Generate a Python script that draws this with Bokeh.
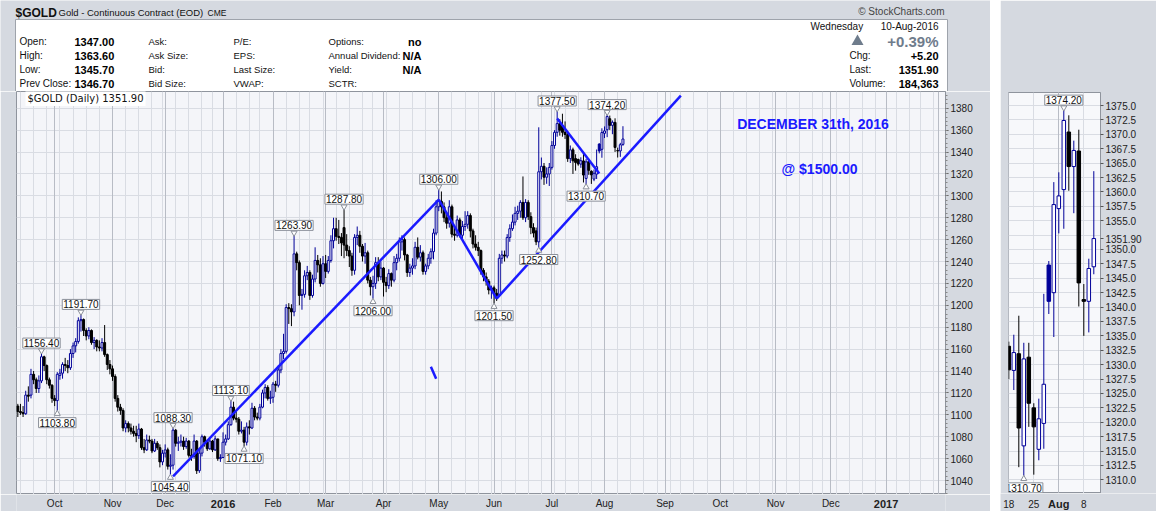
import pandas as pd
from bokeh.plotting import figure
from bokeh.models import (Range1d, FixedTicker, SingleIntervalTicker, Grid, Label,
                          Spacer, NumeralTickFormatter, ColumnDataSource, Plot)
from bokeh.layouts import row, column
from bokeh.embed import file_html
from bokeh.resources import INLINE
from bokeh.core.properties import value

# ---------------- data ----------------
first_day = "2015-09-11"
holidays = ["2015-11-26", "2015-12-25", "2016-01-01", "2016-01-18", "2016-02-15",
            "2016-03-25", "2016-05-30", "2016-07-04", "2016-09-05", "2016-11-24",
            "2016-12-26", "2017-01-02", "2017-01-16", "2017-02-20"]

opens = [
    1108, 1103, 1102, 1101, 1118, 1118, 1137, 1132, 1124, 1131, 1153, 1145, 1132, 1127,
    1115, 1113, 1136, 1138, 1146, 1145, 1143, 1156, 1163, 1167, 1186, 1187, 1177, 1172, 1177, 1166, 1168, 1162, 1161, 1166, 1155, 1146,
    1142, 1135, 1115, 1107, 1104, 1088, 1092, 1088, 1085, 1083, 1081, 1087, 1070, 1068, 1077, 1076, 1067, 1074, 1070, 1057,
    1065, 1068, 1053, 1054, 1086, 1074, 1075, 1076, 1071, 1076, 1063, 1062, 1076, 1049, 1065, 1080, 1075, 1069, 1076, 1068, 1078, 1060,
    1061, 1075, 1078, 1091, 1107, 1097, 1096, 1085, 1086, 1075, 1089, 1088, 1106, 1098, 1097, 1107, 1120, 1125, 1115,
    1116, 1128, 1127, 1141, 1156, 1158, 1198, 1197, 1194, 1247, 1239, 1209, 1210, 1227, 1230, 1209, 1224, 1241, 1237, 1220,
    1238, 1231, 1241, 1259, 1270, 1263, 1262, 1271, 1255, 1250, 1245, 1232, 1262, 1264, 1254, 1245, 1248, 1223, 1217, 1220, 1239, 1226,
    1234, 1221, 1218, 1229, 1223, 1239, 1243, 1258, 1260, 1246, 1230, 1234, 1236, 1253, 1244, 1248, 1231, 1236, 1243, 1249, 1266,
    1290, 1295, 1290, 1280, 1275, 1290, 1265, 1264, 1278, 1264, 1272, 1274, 1282, 1268, 1256, 1253, 1250, 1232, 1226, 1222, 1214,
    1216, 1211, 1209, 1243, 1246, 1245, 1262, 1270, 1276, 1284, 1286, 1294, 1280, 1294, 1281, 1271, 1268, 1258, 1322, 1327, 1317, 1320,
    1326, 1346, 1358, 1366, 1364, 1358, 1356, 1334, 1342, 1334, 1333.2, 1329.0, 1331.9, 1315.9, 1331.3, 1322.5, 1315.3, 1319.8, 1347.3, 1342.5,
    1357.1, 1360.4, 1370.4, 1364.4, 1367.1, 1341.3, 1341.0, 1347.0,
]
highs = [
    1110, 1110, 1108, 1122, 1126, 1142, 1140, 1134, 1136, 1156.4, 1154, 1146, 1134, 1128,
    1118, 1139, 1142, 1148, 1152, 1150, 1160, 1166, 1170, 1189, 1191.7, 1188, 1179, 1180, 1178, 1171, 1169, 1168, 1170, 1182, 1156, 1150,
    1145, 1137, 1118, 1110, 1106, 1095, 1094, 1092, 1090, 1090, 1092, 1088, 1078, 1082, 1081, 1078, 1078, 1076, 1073, 1068,
    1073, 1070, 1064, 1088.3, 1087, 1080, 1082, 1080, 1079, 1077, 1069, 1082, 1077, 1068, 1082, 1081, 1077, 1078, 1077, 1081, 1078, 1064,
    1084, 1082, 1094, 1113.1, 1112, 1103, 1098, 1094, 1089, 1093, 1095, 1111, 1108, 1102, 1110, 1123, 1128, 1127, 1122,
    1130, 1131, 1145, 1160, 1174, 1201, 1202, 1201, 1263.9, 1249, 1241, 1215, 1232, 1236, 1232, 1228, 1253, 1246, 1243, 1245,
    1246, 1245, 1264, 1280, 1280, 1278, 1266, 1287.8, 1265, 1254, 1248, 1265, 1272, 1268, 1256, 1257, 1250, 1226, 1227, 1244, 1244, 1240,
    1235, 1226, 1233, 1230, 1245, 1247, 1262, 1264, 1262, 1247, 1238, 1243, 1258, 1262, 1255, 1250, 1238, 1247, 1252, 1270, 1296,
    1306, 1304, 1294, 1285, 1296, 1292, 1272, 1282, 1280, 1277, 1286, 1286, 1284, 1270, 1264, 1258, 1251, 1234, 1230, 1224, 1218,
    1218, 1215, 1247, 1250, 1250, 1265, 1274, 1283, 1290, 1291, 1296, 1317.7, 1297, 1296, 1285, 1275, 1271, 1362.6, 1335, 1330, 1326, 1330,
    1350, 1360, 1377.5, 1370, 1375, 1368, 1358, 1346, 1344, 1338, 1334.0, 1335.2, 1338.5, 1333.8, 1333.8, 1323.3, 1324.1, 1342.3, 1348.0, 1361.7,
    1363.4, 1374.2, 1373.3, 1368.9, 1370.8, 1344.0, 1348.4, 1363.6,
]
lows = [
    1098, 1100, 1098, 1100, 1112, 1115, 1128, 1120, 1120, 1129, 1140, 1128, 1124, 1111,
    1108, 1103.8, 1132, 1133, 1140, 1138, 1141, 1152, 1157, 1165, 1176, 1172, 1168, 1169, 1164, 1160, 1158, 1158, 1158, 1153, 1141, 1137,
    1131, 1112, 1103, 1100, 1085, 1084, 1084, 1082, 1080, 1075, 1078, 1068, 1065, 1067, 1074, 1065, 1066, 1068, 1052, 1054,
    1061, 1050, 1045.4, 1050, 1071, 1067, 1071, 1068, 1069, 1061, 1058, 1060, 1046, 1047, 1062, 1071, 1067, 1068, 1066, 1067, 1058, 1057,
    1061, 1072, 1077, 1090, 1095, 1093, 1082, 1083, 1071.1, 1072, 1082, 1087, 1095, 1095, 1095, 1106, 1115, 1113, 1110,
    1111, 1121, 1125, 1138, 1151, 1156, 1183, 1181, 1190, 1232, 1200, 1196, 1207, 1223, 1205, 1207, 1221, 1230, 1217, 1219,
    1225, 1229, 1239, 1252, 1259, 1256, 1245, 1243, 1245, 1235, 1227, 1228, 1255, 1248, 1240, 1238, 1220, 1209, 1206, 1215, 1222, 1223,
    1208, 1212, 1215, 1217, 1221, 1232, 1240, 1250, 1241, 1226, 1226, 1228, 1233, 1242, 1240, 1228, 1228, 1233, 1238, 1242, 1264,
    1286, 1284, 1276, 1270, 1271, 1262, 1259, 1262, 1262, 1261, 1268, 1270, 1262, 1252, 1250, 1245, 1228, 1222, 1218, 1210, 1206,
    1201.5, 1204, 1208, 1238, 1240, 1243, 1258, 1268, 1273, 1278, 1280, 1278, 1276, 1278, 1265, 1262, 1255, 1252.8, 1315, 1310, 1311, 1309,
    1324, 1343, 1354, 1355, 1354, 1352, 1331, 1330, 1320, 1323, 1327.5, 1325.6, 1312.2, 1310.7, 1319.2, 1310.9, 1313.4, 1315.4, 1338.8, 1334.8,
    1352.8, 1353.6, 1360.2, 1356.3, 1340.1, 1335.0, 1335.6, 1345.7,
]
closes = [
    1103, 1102, 1101, 1118, 1117, 1137, 1132, 1124, 1131, 1153, 1145, 1132, 1127, 1115,
    1113, 1137, 1138, 1146, 1145, 1143, 1156, 1163, 1167, 1186, 1187, 1177, 1172, 1177, 1166, 1168, 1162, 1161, 1166, 1155, 1146, 1142,
    1135, 1115, 1107, 1104, 1088, 1092, 1088, 1085, 1083, 1081, 1087, 1070, 1068, 1077, 1076, 1067, 1074, 1070, 1057, 1065,
    1068, 1053, 1054, 1086, 1074, 1075, 1076, 1071, 1076, 1063, 1062, 1076, 1049, 1065, 1080, 1075, 1069, 1076, 1068, 1078, 1060, 1061,
    1075, 1078, 1091, 1107, 1097, 1096, 1085, 1086, 1075, 1089, 1088, 1106, 1098, 1097, 1107, 1120, 1125, 1115, 1116,
    1128, 1127, 1141, 1156, 1158, 1198, 1197, 1194, 1247, 1239, 1209, 1210, 1227, 1230, 1209, 1224, 1241, 1237, 1220, 1238,
    1231, 1241, 1259, 1270, 1263, 1262, 1257, 1255, 1250, 1245, 1232, 1262, 1264, 1254, 1245, 1248, 1223, 1217, 1220, 1239, 1226, 1234,
    1221, 1218, 1229, 1223, 1239, 1243, 1258, 1260, 1246, 1230, 1234, 1236, 1253, 1244, 1248, 1231, 1236, 1243, 1249, 1266, 1290,
    1295, 1290, 1280, 1275, 1290, 1265, 1264, 1278, 1264, 1272, 1274, 1282, 1268, 1256, 1253, 1250, 1232, 1226, 1222, 1214, 1216,
    1211, 1209, 1243, 1246, 1245, 1262, 1270, 1276, 1284, 1286, 1294, 1280, 1294, 1281, 1271, 1266, 1258, 1322, 1327, 1317, 1320, 1326,
    1346, 1358, 1366, 1360, 1358, 1356, 1334, 1342, 1332, 1330.5, 1329.1, 1332.1, 1319.0, 1331.0, 1323.3, 1319.2, 1320.6, 1326.6, 1341.0, 1357.8,
    1359.3, 1372.4, 1364.4, 1367.2, 1344.2, 1341.0, 1346.7, 1351.9,
]

callout_dates = ["2015-09-24", "2015-10-02", "2015-10-15", "2015-12-04", "2015-12-03",
                 "2016-01-07", "2016-01-14", "2016-02-11", "2016-03-10", "2016-03-28",
                 "2016-05-02", "2016-06-01", "2016-06-24", "2016-07-06", "2016-07-21",
                 "2016-08-02"]
callout_prices = [1156.40, 1103.80, 1191.70, 1088.30, 1045.40, 1113.10, 1071.10, 1263.90,
                  1287.80, 1206.00, 1306.00, 1201.50, 1252.80, 1377.50, 1310.70, 1374.20]
callout_sides = ["above", "below", "above", "above", "below", "above", "below", "above",
                 "above", "below", "above", "below", "below", "above", "below", "above"]

trend_start_dates = ["2015-12-04", "2016-05-02", "2016-06-02", "2016-07-06", "2016-04-27"]
trend_start_prices = [1043.7, 1296.6, 1206.2, 1370.6, 1144.0]
trend_end_dates = ["2016-05-02", "2016-06-02", "2016-09-12", "2016-07-28", "2016-04-29"]
trend_end_prices = [1296.6, 1206.2, 1391.6, 1320.4, 1133.0]

month_tick_labels = ["Oct", "Nov", "Dec", "2016", "Feb", "Mar", "Apr", "May", "Jun",
                     "Jul", "Aug", "Sep", "Oct", "Nov", "Dec", "2017"]
zoom_bars = 18
zoom_tick_labels = ["18", "25", "Aug", "8"]

symbol = "$GOLD"
title_text = "Gold - Continuous Contract (EOD)"
exchange = "CME"
credit = "\u00a9 StockCharts.com"
info_labels = [["Open:", "High:", "Low:", "Prev Close:"],
               ["Ask:", "Ask Size:", "Bid:", "Bid Size:"],
               ["P/E:", "EPS:", "Last Size:", "VWAP:"],
               ["Options:", "Annual Dividend:", "Yield:", "SCTR:"]]
info_values = ["1347.00", "1363.60", "1345.70", "1346.70"]
info_values2 = ["no", "N/A", "N/A", ""]
quote_day = "Wednesday"
quote_date = "10-Aug-2016"
quote_pct = "+0.39%"
quote_labels = ["Chg:", "Last:", "Volume:"]
quote_values = ["+5.20", "1351.90", "184,363"]
chart_caption = "$GOLD (Daily) 1351.90"
last_price = 1351.90
note_1 = "DECEMBER 31th, 2016"
note_2 = "@ $1500.00"

# ---------------- styling ----------------
PANEL_BG = "#d5d9e0"
PLOT_BG = "#f4f5f9"
GRID = "#d9dce3"
MONTH_GRID = "#b8bcc5"
FRAME = "#8f949d"
BLUE_C = "#000099"
BLACK_C = "#000000"
TREND = "#1a1aff"
FONT = "Liberation Sans"
HAS_FA = "frame_align" in Plot.properties()

# ---------------- calendar ----------------
cal = pd.bdate_range(first_day, "2017-03-31")
cal = cal[~cal.isin(pd.to_datetime(holidays))]
cal_str = list(cal.strftime("%Y-%m-%d"))
pos = {d: i for i, d in enumerate(cal_str)}
n = len(closes)

month_starts = [i for i in range(1, len(cal)) if cal[i].month != cal[i - 1].month]
week_starts = [i for i in range(1, len(cal)) if cal[i].weekday() < cal[i - 1].weekday()]

bar_color, bar_fill = [], []
for i in range(n):
    up = i > 0 and closes[i] >= closes[i - 1]
    col = BLUE_C if up else BLACK_C
    bar_color.append(col)
    bar_fill.append("white" if closes[i] > opens[i] else col)


def draw_candles(p, idx, width):
    src = ColumnDataSource(dict(
        x=idx,
        h=[highs[i] for i in idx], l=[lows[i] for i in idx],
        top=[max(opens[i], closes[i]) for i in idx],
        bottom=[min(opens[i], closes[i]) for i in idx],
        color=[bar_color[i] for i in idx], fill=[bar_fill[i] for i in idx]))
    p.segment(x0="x", y0="l", x1="x", y1="h", line_color="color", line_width=1, source=src)
    p.vbar(x="x", width=width, top="top", bottom="bottom", fill_color="fill",
           line_color="color", line_width=1, source=src)


def add_callouts(p, ppu, lo, hi):
    for d, pr, s in zip(callout_dates, callout_prices, callout_sides):
        i = pos[d]
        if i < lo or i >= hi:
            continue
        up = s == "above"
        p.add_layout(Label(x=i, y=pr, y_offset=10 if up else -12, text=f"{pr:.2f}",
                           text_align="center", text_baseline="middle", text_font=FONT,
                           text_font_size="10px", text_color="#111111",
                           background_fill_color="white", border_line_color="#8a8f99",
                           padding=1))
        p.scatter(x=[i], y=[pr + (2.5 if up else -3.0) / ppu],
                  marker="inverted_triangle" if up else "triangle", size=6,
                  fill_color="white", line_color="#8a8f99")


def label_strip(width, height, x_range, border_left, border_right, ticks, labels, bold,
                ypos, free):
    s = figure(width=width, height=height, x_range=x_range, y_range=Range1d(0, 1),
               x_axis_location=None, y_axis_location=None, min_border=0,
               min_border_left=border_left, min_border_right=border_right,
               toolbar_location=None, output_backend="svg",
               background_fill_color=PANEL_BG, border_fill_color=PANEL_BG,
               outline_line_color=None)
    if free and HAS_FA:
        s.frame_align = False
    s.grid.visible = False
    reg = [(t, lab) for t, lab in zip(ticks, labels) if lab not in bold]
    bld = [(t, lab) for t, lab in zip(ticks, labels) if lab in bold]
    if reg:
        s.text(x=[t for t, _ in reg], y=[ypos] * len(reg), text=[l for _, l in reg],
               text_font=value(FONT), text_font_size="10px", text_color="#222222",
               text_align="center", text_baseline="middle")
    if bld:
        s.text(x=[t for t, _ in bld], y=[ypos] * len(bld), text=[l for _, l in bld],
               text_font=value(FONT), text_font_size="11px", text_font_style="bold",
               text_color="#222222", text_align="center", text_baseline="middle")
    return s


# ---------------- header ----------------
if HAS_FA:
    hdr = figure(width=990, height=91, x_range=Range1d(0, 990), y_range=Range1d(91, 0),
                 x_axis_location=None, y_axis_location=None, min_border=0,
                 toolbar_location=None, output_backend="svg",
                 background_fill_color=PANEL_BG, border_fill_color=PANEL_BG,
                 outline_line_color=None)
    hdr.frame_align = False
else:
    hdr = figure(width=990, height=91, x_range=Range1d(16, 945), y_range=Range1d(91, 0),
                 x_axis_location=None, y_axis_location=None, min_border=0,
                 min_border_left=16, min_border_right=45,
                 toolbar_location=None, output_backend="svg",
                 background_fill_color=PANEL_BG, border_fill_color=PANEL_BG,
                 outline_line_color=None)
hdr.grid.visible = False
hdr.quad(left=[15], right=[947], top=[19], bottom=[91], fill_color="white",
         line_color="#9ea3ab")


def htext(x, y, t, size="9.5px", style="normal", color="#111111", align="left"):
    hdr.text(x=[x], y=[y], text=[t], text_font=value(FONT), text_font_size=size,
             text_font_style=style, text_color=color, text_align=align,
             text_baseline="middle")


htext(15, 12, symbol, "12px", "bold")
htext(58, 12, title_text, "9.5px")
htext(207, 12, exchange, "8.5px")
htext(944, 11, credit, "10px", color="#444444", align="right")
rows_y = [41, 55, 69, 83]
col_x = [19, 148, 233, 328]
for cx, labs in zip(col_x, info_labels):
    for y, t in zip(rows_y, labs):
        htext(cx, y, t, "10px" if cx == 19 else "9.5px")
for y, t in zip(rows_y, info_values):
    htext(74, y, t, "11px", "bold", "#000000")
for y, t in zip(rows_y, info_values2):
    if t:
        htext(421, y, t, "11px", "bold", "#000000", "right")
htext(810, 26, quote_day, "10px")
htext(938, 26, quote_date, "10px", align="right")
hdr.scatter(x=[857], y=[41], marker="triangle", size=12, fill_color="#6f7c8c",
            line_color=None)
htext(938, 41, quote_pct, "15px", "bold", "#6f7c8c", "right")
for y, lab, val in zip(rows_y[1:], quote_labels, quote_values):
    htext(849, y, lab, "10px")
    htext(938, y, val, "11px", "bold", "#000000", "right")

# ---------------- main chart ----------------
MAIN_Y1 = 1395.3
MAIN_PPU = 1.0949
MAIN_H = 403
MAIN_Y0 = MAIN_Y1 - MAIN_H / MAIN_PPU
main_xr = Range1d(-0.5, 352.6)
main = figure(width=990, height=MAIN_H, x_range=main_xr,
              y_range=Range1d(MAIN_Y0, MAIN_Y1), output_backend="svg",
              toolbar_location=None, x_axis_location=None, y_axis_location="right",
              min_border_left=16, min_border_right=45, min_border_top=0,
              min_border_bottom=0, background_fill_color=PLOT_BG,
              border_fill_color=PANEL_BG, outline_line_color=FRAME)

month_ticks = month_starts[:len(month_tick_labels)]

main.yaxis.ticker = SingleIntervalTicker(interval=20, num_minor_ticks=5)
main.yaxis.major_tick_out = 3
main.yaxis.major_tick_in = 0
main.yaxis.minor_tick_out = 2
main.yaxis.minor_tick_in = 0
main.yaxis.axis_line_color = FRAME
main.yaxis.major_tick_line_color = "#555555"
main.yaxis.minor_tick_line_color = "#888888"
main.yaxis.major_label_standoff = 2
main.yaxis.major_label_text_font = FONT
main.yaxis.major_label_text_font_size = "10px"
main.yaxis.major_label_text_color = "#222222"

main.xgrid.grid_line_color = None
main.ygrid.ticker = SingleIntervalTicker(interval=20)
main.ygrid.grid_line_color = GRID
main.add_layout(Grid(dimension=0, ticker=FixedTicker(ticks=week_starts),
                     grid_line_color=GRID))
main.add_layout(Grid(dimension=0, ticker=FixedTicker(ticks=month_starts),
                     grid_line_color=MONTH_GRID))

draw_candles(main, list(range(n)), 0.75)

main.multi_line(xs=[[pos[a], pos[b]] for a, b in zip(trend_start_dates, trend_end_dates)],
                ys=[[a, b] for a, b in zip(trend_start_prices, trend_end_prices)],
                line_color=TREND, line_width=2.5)

add_callouts(main, MAIN_PPU, 0, n)

FRAME_BOTTOM = 91 + MAIN_H
main.add_layout(Label(x=9, y=FRAME_BOTTOM - 98, x_units="screen", y_units="screen",
                      text=chart_caption, text_baseline="middle", text_font="DejaVu Sans",
                      text_font_size="10px", text_color="#111111",
                      background_fill_color="white", padding=2))
main.add_layout(Label(x=796.5, y=FRAME_BOTTOM - 123.3, x_units="screen", y_units="screen",
                      text=note_1, text_align="center", text_baseline="middle",
                      text_font=FONT, text_font_size="14px", text_font_style="bold",
                      text_color=TREND))
main.add_layout(Label(x=803, y=FRAME_BOTTOM - 168.3, x_units="screen", y_units="screen",
                      text=note_2, text_align="center", text_baseline="middle",
                      text_font=FONT, text_font_size="14px", text_font_style="bold",
                      text_color=TREND))

main_strip = label_strip(990, 511 - FRAME_BOTTOM, main_xr, 16, 45, month_ticks,
                         month_tick_labels, {"2016", "2017"},
                         (511 - 503) / (511 - FRAME_BOTTOM), False)

# ---------------- zoom panel ----------------
z0 = n - zoom_bars
SIDE_PPU = 5.759
SIDE_Y1 = 1377.26
SIDE_TOP = 92
SIDE_BOTTOM = 493
SIDE_Y0 = SIDE_Y1 - (SIDE_BOTTOM - SIDE_TOP) / SIDE_PPU
BAR_PX = 5.0
side_x0 = z0 - 0.06
side_xr = Range1d(side_x0, side_x0 + 92 / BAR_PX)
side = figure(width=156, height=SIDE_BOTTOM, x_range=side_xr,
              y_range=Range1d(SIDE_Y0, SIDE_Y1), output_backend="svg",
              toolbar_location=None, x_axis_location=None, y_axis_location="right",
              min_border_left=8, min_border_right=56, min_border_top=SIDE_TOP,
              min_border_bottom=0, background_fill_color="#f7f8fb",
              border_fill_color=PANEL_BG, outline_line_color=FRAME)

zoom_ticks = [w for w in week_starts if z0 <= w < n]

y_ticks = [1310 + 2.5 * k for k in range(27)]
y_ticks = [t for t in y_ticks if abs(t - last_price) > 1.0] + [last_price]
side.yaxis.ticker = FixedTicker(ticks=y_ticks)
side.yaxis.formatter = NumeralTickFormatter(format="0.0")
side.yaxis.major_label_overrides = {last_price: f"{last_price:.2f}"}
side.yaxis.major_tick_out = 3
side.yaxis.major_tick_in = 0
side.yaxis.minor_tick_line_color = None
side.yaxis.axis_line_color = FRAME
side.yaxis.major_tick_line_color = "#555555"
side.yaxis.major_label_standoff = 2
side.yaxis.major_label_text_font = FONT
side.yaxis.major_label_text_font_size = "10px"
side.yaxis.major_label_text_color = "#222222"

side.xgrid.grid_line_color = None
side.ygrid.ticker = SingleIntervalTicker(interval=2.5)
side.ygrid.grid_line_color = GRID
side.add_layout(Grid(dimension=0, ticker=FixedTicker(ticks=zoom_ticks),
                     grid_line_color=GRID))
side.add_layout(Grid(dimension=0, ticker=FixedTicker(ticks=[m for m in month_starts if z0 <= m < n]),
                     grid_line_color=MONTH_GRID))

draw_candles(side, list(range(z0, n)), 0.7)
add_callouts(side, SIDE_PPU, z0, n)

strip_h = 511 - SIDE_BOTTOM
if HAS_FA:
    side_strip_xr = Range1d(side_x0 - 8 / BAR_PX, side_x0 - 8 / BAR_PX + 156 / BAR_PX)
    side_strip = label_strip(156, strip_h, side_strip_xr, 0, 0, zoom_ticks,
                             zoom_tick_labels, {"Aug"}, (511 - 503) / strip_h, True)
else:
    side_strip = label_strip(156, strip_h, side_xr, 8, 56, zoom_ticks,
                             zoom_tick_labels, {"Aug"}, (511 - 503) / strip_h, False)

layout = row(column(hdr, main, main_strip), Spacer(width=10, height=511),
             column(side, side_strip))

with open("out.html", "w") as f:
    f.write(file_html(layout, INLINE, title="$GOLD"))
